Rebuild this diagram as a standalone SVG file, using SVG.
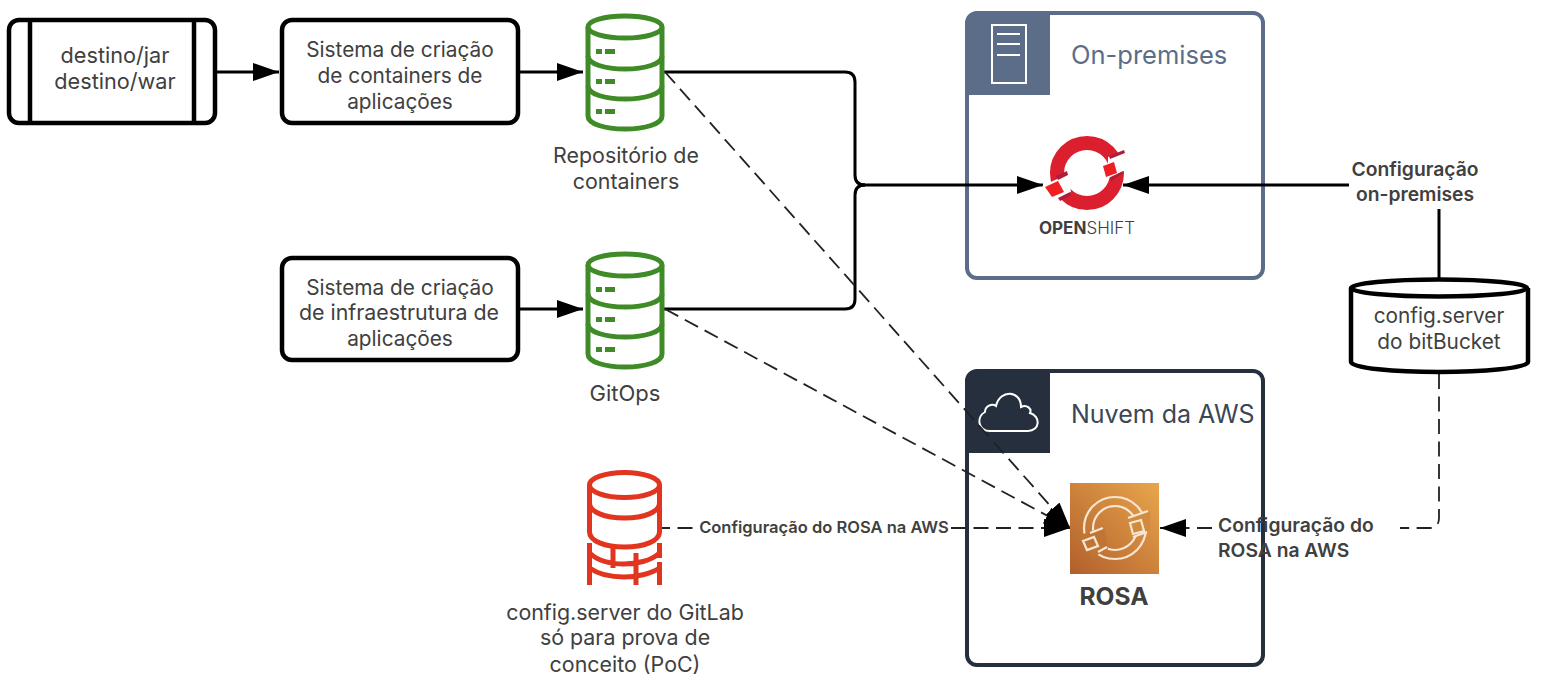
<svg xmlns="http://www.w3.org/2000/svg" width="1554" height="686" viewBox="0 0 1554 686">
<style>
text{font-family:"Inter","Noto Sans","Liberation Sans",sans-serif;fill:#404040;font-size:20.800px;text-anchor:middle}
.b{fill:#fff;stroke:#000;stroke-width:4.5}
.l{fill:none;stroke:#000;stroke-width:3}
.d{fill:none;stroke:#222;stroke-width:1.800;stroke-dasharray:15 7.500}
.da{marker-end:url(#ah)}
.sa{marker-end:url(#ah)}
.lab{font-weight:600;font-size:19.300px}
.g{fill:#fff;stroke:#3f8b27;stroke-width:5}
.gd{fill:#3f8b27}
.r{fill:none;stroke:#e2351f;stroke-width:5}
.tt{text-anchor:start;font-size:25px}
.w{fill:none;stroke:#fff;stroke-width:2}
.wr{fill:none;stroke:#f6e6d2;stroke-width:2.200}
.t2{font-size:21.400px}
</style>
<defs>
<marker id="ah" markerUnits="userSpaceOnUse" markerWidth="27" markerHeight="18" refX="26" refY="9" orient="auto"><path d="M0 0L26 9L0 18Z" fill="#000"/></marker>
<linearGradient id="rg" x1="0" y1="1" x2="1" y2="0"><stop offset="0" stop-color="#b25f2c"/><stop offset="1" stop-color="#e8a64c"/></linearGradient>
<g id="cyl">
<path class="g" d="M-37 13V102C-37 110 -20 115 0 115S37 110 37 102V13"/>
<ellipse class="g" cx="0" cy="13" rx="37" ry="11"/>
<path class="g" style="fill:none" d="M-37 42C-37 50 -20 55 0 55S37 50 37 42M-37 72C-37 80 -20 85 0 85S37 80 37 72"/>
<path class="gd" d="M-29 35h6v5h-6zM-20 35h10v5h-10zM-29 65h6v5h-6zM-20 65h10v5h-10zM-29 95h6v5h-6zM-20 95h10v5h-10z"/>
</g>
</defs>

<g id="on-premises">
<rect x="967" y="13" width="296" height="265" rx="10" fill="#fff" stroke="#5b6d88" stroke-width="4"/>
<path d="M967 23a10 10 0 0 1 10-10H1050V95H967Z" fill="#5b6d88"/>
<rect class="w" x="992" y="25" width="34" height="58"/>
<path class="w" d="M997 34H1020M997 44H1020M997 55H1020"/>
<text class="tt" x="1071" y="64" style="fill:#5b6d88;font-size:25.500px">On-premises</text>
</g>
<g id="nuvem-aws">
<rect x="967" y="371" width="296" height="294" rx="10" fill="#fff" stroke="#252f3e" stroke-width="4"/>
<path d="M967 381a10 10 0 0 1 10-10H1050V453H967Z" fill="#252f3e"/>
<path class="w" d="M990 431C978 431 976 417 985 412C985 406 992 403 996 406C1000 389 1021 390 1021 407C1027 404 1032 409 1030 413C1041 416 1040 431 1028 431Z"/>
<text class="tt" x="1071" y="423" style="fill:#3b4657">Nuvem da AWS</text>
</g>

<g id="connectors">
<path class="l sa" d="M215 72H279"/>
<path class="l sa" d="M518 72H583"/>
<path class="l sa" d="M518 309H583"/>
<path class="l" d="M664 72H845Q855 72 855 82V175Q855 185 865 185"/>
<path class="l" d="M664 309H845Q855 309 855 299V195Q855 185 865 185"/>
<path class="l sa" d="M860 185H1043"/>
<path class="l sa" d="M1349 185H1123"/>
<path class="l" d="M1439 209V279"/>
<path class="d da" d="M665 72L1070 528"/>
<path class="d da" d="M665 309L1070 528"/>
<path class="d" style="stroke-dashoffset:7" d="M662 528H693"/>
<path class="d da" d="M951 528H1070"/>
<path class="d" d="M1439 374V518Q1439 528 1429 528H1400"/>
<path class="d da" d="M1212 528H1160"/>
</g>

<g id="destino"><rect class="b" x="9" y="20" width="206" height="103" rx="10"/><path class="b" d="M30 20V123M194 20V123"/>
<text x="115" y="63" style="font-size:21.700px">destino/jar</text><text x="115" y="89" style="font-size:21.700px">destino/war</text></g>
<g id="sistema-containers"><rect class="b" x="282" y="20" width="236" height="103" rx="10"/>
<text x="400" y="57">Sistema de criação</text><text x="400" y="83">de containers de</text><text x="400" y="109">aplicações</text></g>
<g id="sistema-infra"><rect class="b" x="282" y="258" width="236" height="102" rx="10"/>
<text x="400" y="295">Sistema de criação</text><text class="t2" x="399" y="320">de infraestrutura de</text><text x="400" y="346">aplicações</text></g>
<g id="repositorio"><use href="#cyl" x="625" y="14"/>
<text class="t2" x="626" y="163">Repositório de</text><text class="t2" x="626" y="189">containers</text></g>
<g id="gitops"><use href="#cyl" x="625" y="252"/><text x="625" y="401" style="font-size:22px">GitOps</text></g>
<g id="gitlab">
<ellipse class="r" cx="624.500" cy="485" rx="35" ry="12.500"/>
<path class="r" d="M589.500 485V532C589.500 541 605 547 624.500 547S659.500 541 659.500 532V485M589.500 503C589.500 512 605 518 624.500 518S659.500 512 659.500 503"/>
<path class="r" d="M589.500 543V585M659.500 543V558M659.500 562V585M589.500 553C598 561 612 564 624 564S651 561 659.500 553M589.500 568C598 574 612 577 624 577S651 574 659.500 568M613 548V568M636 553V585"/>
<text class="t2" x="625" y="620">config.server do GitLab</text><text class="t2" x="625" y="645">só para prova de</text><text class="t2" x="625" y="672">conceito (PoC)</text>
</g>
<g id="bitbucket">
<path class="b" d="M1351 288V362C1351 368 1395 372 1439 372S1528 368 1528 362V288"/>
<ellipse class="b" cx="1439" cy="288" rx="88" ry="8.500"/>
<text x="1439" y="323">config.server</text><text x="1439" y="349">do bitBucket</text>
</g>
<g id="openshift">
<circle cx="1087" cy="173" r="30" fill="none" stroke="#dc1f2e" stroke-width="14"/>
<path d="M1042 186L1068 174L1071 192L1056 202Z" fill="#fff"/>
<path d="M1128 150L1108 157L1108 178L1126 170Z" fill="#fff"/>
<path d="M1045 187L1058 181L1064 192L1052 197Z" fill="#ee2024"/>
<path d="M1103 166L1114 162L1117 173L1106 177Z" fill="#ee2024"/>
<path d="M1056 176L1067 171L1068 175L1058 180ZM1058 198L1070 192L1071 195L1060 201ZM1109 156L1124 150L1125 153L1110 159ZM1110 178L1123 171L1122 174L1111 181Z" fill="#a91f3c"/>
<text x="1087" y="234" style="font-size:17px"><tspan font-weight="700">OPEN</tspan><tspan font-weight="300">SHIFT</tspan></text>
</g>
<g id="rosa">
<rect x="1070" y="483" width="89" height="91" fill="url(#rg)"/>
<circle class="wr" cx="1115" cy="528" r="31"/><circle class="wr" cx="1115" cy="528" r="22"/>
<path d="M1080 535L1104 527L1108 549L1092 558Z" fill="#c07534"/>
<path d="M1150 511L1128 518L1130 538L1150 530Z" fill="#d08b3f"/>
<path class="wr" d="M1083 541L1094 537L1098 546L1087 550ZM1130 523L1141 520L1144 531L1133 534ZM1090 533L1103 528M1098 552L1107 547M1128 518L1148 511M1133 537L1147 532"/>
<text x="1114" y="605" style="font-weight:700;font-size:24.500px">ROSA</text>
</g>
<g id="labels">
<text class="lab" x="1415" y="176">Configuração</text><text class="lab" x="1415" y="201">on-premises</text>
<text class="lab" x="824" y="533" style="font-size:16.500px">Configuração do ROSA na AWS</text>
<text class="lab" x="1218" y="532" style="text-anchor:start">Configuração do</text><text class="lab" x="1218" y="557" style="text-anchor:start">ROSA na AWS</text>
</g>
</svg>
